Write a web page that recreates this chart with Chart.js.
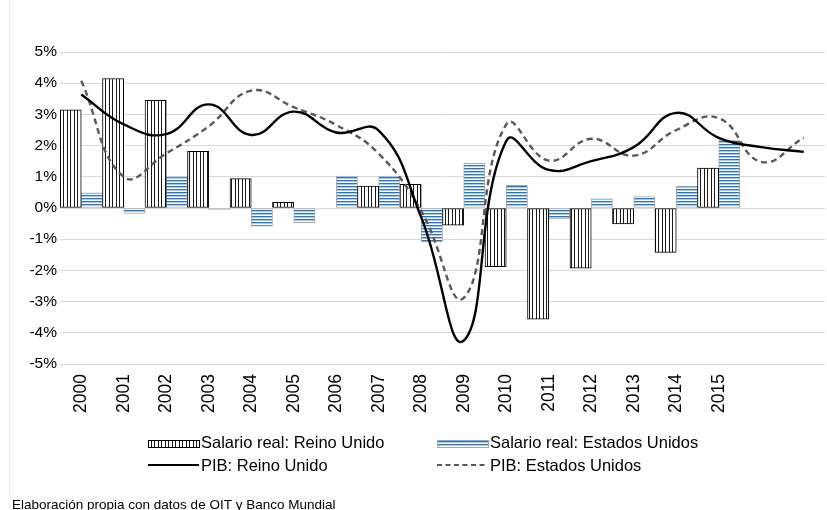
<!DOCTYPE html>
<html>
<head>
<meta charset="utf-8">
<script src="https://cdn.jsdelivr.net/npm/chart.js@4/dist/chart.umd.min.js"></script>
<style>
  html, body { margin: 0; padding: 0; background: #ffffff; }
  #wrap { position: relative; width: 827px; height: 510px; overflow: hidden; }
  canvas { display: block; }
</style>
</head>
<body>
<div id="wrap"><canvas id="c" width="827" height="510"></canvas></div>
<script>
// ---- Data ----
const years = ['2000','2001','2002','2003','2004','2005','2006','2007','2008','2009','2010','2011','2012','2013','2014','2015','2016','2017'];
const tickLabels = ['2000','2001','2002','2003','2004','2005','2006','2007','2008','2009','2010','2011','2012','2013','2014','2015','',''];
const salarioRealUK = [3.15, 4.15, 3.45, 1.82, 0.94, 0.18, null, 0.70, 0.76, -0.55, -1.88, -3.56, -1.93, -0.51, -1.42, 1.28, null, null];
const salarioRealUS = [0.49, -0.17, 1.00, -0.05, -0.58, -0.47, 1.02, 1.02, -1.08, 1.43, 0.73, -0.35, 0.29, 0.37, 0.70, 2.18, null, null];
const pibUK = [3.64, 2.68, 2.37, 3.32, 2.34, 3.09, 2.42, 2.48, -0.30, -4.25, 2.15, 1.22, 1.50, 1.95, 3.05, 2.25, 1.95, 1.80];
const pibUS = [4.08, 1.00, 1.75, 2.62, 3.76, 3.23, 2.66, 1.74, -0.10, -2.88, 2.68, 1.52, 2.22, 1.68, 2.50, 2.88, 1.48, 2.25];
const yTicks = [-5, -4, -3, -2, -1, 0, 1, 2, 3, 4, 5];
const seriesNames = ['Salario real: Reino Unido', 'Salario real: Estados Unidos', 'PIB: Reino Unido', 'PIB: Estados Unidos'];
const caption = 'Elaboración propia con datos de OIT y Banco Mundial';

// ---- Patterns ----
function makeVerticalPattern() {
  const c = document.createElement('canvas');
  c.width = 7; c.height = 4;
  const g = c.getContext('2d');
  g.fillStyle = '#ffffff'; g.fillRect(0, 0, 7, 4);
  g.fillStyle = '#1a1a1a';
  g.fillRect(0, 0, 1, 4);
  g.fillRect(4, 0, 1, 4);
  return g.createPattern(c, 'repeat');
}
function makeHorizontalPattern() {
  const c = document.createElement('canvas');
  c.width = 4; c.height = 3;
  const g = c.getContext('2d');
  g.fillStyle = '#ffffff'; g.fillRect(0, 0, 4, 3);
  g.fillStyle = '#2e75b6'; g.fillRect(0, 0, 4, 1);
  g.fillStyle = '#a9cbea'; g.fillRect(0, 1, 4, 1);
  return g.createPattern(c, 'repeat');
}
const patUK = makeVerticalPattern();
const patUS = makeHorizontalPattern();

const FONT = "'Liberation Sans', Arial, sans-serif";

// ---- Custom legend + caption ----
const legendPlugin = {
  id: 'customLegend',
  afterDraw(chart) {
    const ctx = chart.ctx;
    ctx.save();
    // faint page border line
    ctx.strokeStyle = '#efefef';
    ctx.lineWidth = 1;
    ctx.beginPath(); ctx.moveTo(9.5, 0); ctx.lineTo(9.5, 496); ctx.stroke();

    ctx.font = '16.5px ' + FONT;
    ctx.textBaseline = 'alphabetic';
    ctx.textAlign = 'left';
    // row 1 : bar swatches
    ctx.fillStyle = patUK; ctx.fillRect(148, 440, 51, 7);
    ctx.strokeStyle = '#000'; ctx.lineWidth = 1; ctx.strokeRect(148.5, 440.5, 51, 7);
    ctx.fillStyle = '#000'; ctx.fillText(seriesNames[0], 201, 448);
    ctx.fillStyle = patUS; ctx.fillRect(437, 440, 51, 7);
    ctx.strokeStyle = '#a6a6a6'; ctx.strokeRect(437.5, 440.5, 51, 7);
    ctx.fillStyle = '#000'; ctx.fillText(seriesNames[1], 490, 448);
    // row 2 : line swatches
    ctx.strokeStyle = '#000'; ctx.lineWidth = 2.2; ctx.setLineDash([]);
    ctx.beginPath(); ctx.moveTo(148, 465); ctx.lineTo(199, 465); ctx.stroke();
    ctx.fillText(seriesNames[2], 201, 471);
    ctx.strokeStyle = '#595959'; ctx.setLineDash([5, 3.5]);
    ctx.beginPath(); ctx.moveTo(437, 465); ctx.lineTo(488, 465); ctx.stroke();
    ctx.setLineDash([]);
    ctx.fillText(seriesNames[3], 490, 471);
    // caption
    ctx.font = '13.5px ' + FONT;
    ctx.fillText(caption, 12, 509);
    ctx.restore();
  }
};

new Chart(document.getElementById('c'), {
  type: 'bar',
  data: {
    labels: tickLabels,
    datasets: [
      { type: 'line', label: seriesNames[2], data: pibUK, borderColor: '#000000', borderWidth: 2.4,
        pointRadius: 0, tension: 0.45, fill: false, order: 0 },
      { type: 'line', label: seriesNames[3], data: pibUS, borderColor: '#595959', borderWidth: 2.4,
        borderDash: [6, 4], pointRadius: 0, tension: 0.45, fill: false, order: 0 },
      { label: seriesNames[0], data: salarioRealUK, backgroundColor: patUK, borderColor: '#000000',
        borderWidth: 1, borderSkipped: false, barPercentage: 1, categoryPercentage: 1, order: 1 },
      { label: seriesNames[1], data: salarioRealUS, backgroundColor: patUS, borderColor: '#a6a6a6',
        borderWidth: 1, borderSkipped: false, barPercentage: 1, categoryPercentage: 1, order: 1 }
    ]
  },
  options: {
    responsive: false,
    animation: false,
    devicePixelRatio: 1,
    layout: { padding: { left: 0, right: 2, top: 52, bottom: 86 } },
    plugins: { legend: { display: false }, tooltip: { enabled: false } },
    scales: {
      x: {
        grid: { display: false },
        border: { display: false },
        ticks: { color: '#000', font: { family: FONT, size: 17.5 }, minRotation: 90, maxRotation: 90, padding: 2, autoSkip: false },
        afterFit(s) { s.height = 60; }
      },
      y: {
        min: -5, max: 5,
        afterBuildTicks(s) { s.ticks = yTicks.map(v => ({ value: v })); },
        grid: { color: '#d9d9d9', lineWidth: 1, drawTicks: false },
        border: { display: false },
        ticks: { color: '#000', font: { family: FONT, size: 15.5 }, padding: 3, callback: v => v + '%' },
        afterFit(s) { s.width = 60; }
      }
    }
  },
  plugins: [legendPlugin]
});
</script>
</body>
</html>
